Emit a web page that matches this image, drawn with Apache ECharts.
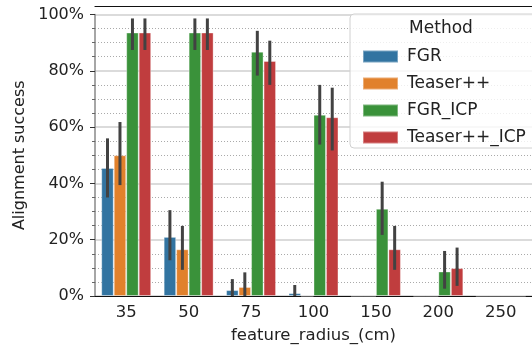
<!DOCTYPE html>
<html>
<head>
<meta charset="utf-8">
<script src="https://cdn.jsdelivr.net/npm/echarts@6/dist/echarts.min.js"></script>
<style>
  html, body { margin: 0; padding: 0; background: #fff; }
  #chart { width: 532px; height: 349px; }
</style>
</head>
<body>
<div id="chart"></div>
<script>
// feature radius categories
var categories = ['35', '50', '75', '100', '150', '200', '250'];
var methods = ['FGR', 'Teaser++', 'FGR_ICP', 'Teaser++_ICP'];
var colors = ['#3274a1', '#e1812c', '#3a923a', '#c03d3e'];

// mean success (%)
var fgr = [45.5, 21, 2.1, 1, 0, 0, 0];
var teaser = [50, 16.6, 3.2, 0, 0, 0, 0];
var fgrIcp = [93.6, 93.6, 86.8, 64.4, 31, 8.7, 0];
var teaserIcp = [93.6, 93.6, 83.5, 63.5, 16.6, 9.9, 0];

// confidence intervals (low / high)
var fgrLo = [35, 12.7, 0, 0, null, null, null];
var fgrHi = [56, 30.5, 6, 3.9, null, null, null];
var teaserLo = [39.4, 9.3, 0, null, null, null, null];
var teaserHi = [61.8, 24.9, 8.4, null, null, null, null];
var fgrIcpLo = [87.4, 87.4, 78.3, 53.8, 21.7, 2.6, null];
var fgrIcpHi = [98.6, 98.6, 94.2, 75, 40.6, 16, null];
var teaserIcpLo = [87.4, 87.4, 75, 51.7, 9.3, 3.6, null];
var teaserIcpHi = [98.6, 98.6, 90.7, 74, 24.9, 17.2, null];

var yTicks = [0, 20, 40, 60, 80, 100];

var means = [fgr, teaser, fgrIcp, teaserIcp];
var los = [fgrLo, teaserLo, fgrIcpLo, teaserIcpLo];
var his = [fgrHi, teaserHi, fgrIcpHi, teaserIcpHi];

var errData = [];
for (var m = 0; m < 4; m++) {
  for (var c = 0; c < categories.length; c++) {
    if (los[m][c] != null) errData.push([c, m, los[m][c], his[m][c]]);
  }
}

var font = 'DejaVu Sans';
var myChart = echarts.init(document.getElementById('chart'));

var series = [];
for (var i = 0; i < 4; i++) {
  series.push({
    name: methods[i],
    type: 'bar',
    data: means[i],
    barGap: '0%',
    barCategoryGap: '20%',
    itemStyle: { color: colors[i], borderColor: 'rgba(255,255,255,0.35)', borderWidth: 1 },
    z: 3
  });
}
series.push({
  type: 'custom',
  data: errData,
  z: 5,
  silent: true,
  renderItem: function (params, api) {
    var cat = api.value(0), m = api.value(1);
    var bw = api.size([1, 0])[0] * 0.8 / 4;
    var lo = api.coord([cat, api.value(2)]);
    var hi = api.coord([cat, api.value(3)]);
    var x = lo[0] + (m - 1.5) * bw;
    return {
      type: 'line',
      shape: { x1: x, y1: lo[1], x2: x, y2: hi[1] },
      style: { stroke: '#424242', lineWidth: 3 }
    };
  }
});

option = {
  animation: false,
  textStyle: { fontFamily: font },
  grid: { left: 95, right: -12, top: 14.5, bottom: 52, containLabel: false },
  legend: {
    data: methods,
    orient: 'vertical',
    left: 357,
    top: 43,
    itemWidth: 35,
    itemHeight: 12,
    itemGap: 10,
    icon: 'rect',
    z: 100,
    textStyle: { fontFamily: font, fontSize: 17, lineHeight: 16, color: '#222', padding: [0, 0, 0, 4] }
  },
  graphic: [
    {
      type: 'rect', z: 50,
      shape: { x: 350, y: 14, width: 200, height: 134, r: 4 },
      style: { fill: 'rgba(255,255,255,0.8)', stroke: '#d0d0d0', lineWidth: 1 }
    },
    {
      type: 'text', z: 51,
      style: { x: 441, y: 29, text: 'Method', textAlign: 'center', textVerticalAlign: 'middle',
               font: '17px "DejaVu Sans"', fill: '#222' }
    }
  ],
  xAxis: [
    {
      type: 'category',
      data: categories,
      name: 'feature_radius_(cm)',
      nameLocation: 'middle',
      nameGap: 31,
      nameTextStyle: { fontFamily: font, fontSize: 16.5, color: '#222' },
      axisLine: { lineStyle: { color: '#111', width: 1.2 } },
      axisTick: { alignWithLabel: true, length: 5, lineStyle: { color: '#111' } },
      axisLabel: { fontFamily: font, fontSize: 16.5, color: '#222', margin: 8 },
      splitLine: { show: false }
    },
    {
      type: 'category',
      data: categories,
      position: 'top',
      offset: 8,
      axisLine: { lineStyle: { color: '#111', width: 1.2 } },
      axisTick: { show: false },
      axisLabel: { show: false }
    }
  ],
  yAxis: {
    type: 'value',
    min: 0,
    max: 100,
    interval: 20,
    name: 'Alignment success',
    nameLocation: 'middle',
    nameGap: 64,
    nameTextStyle: { fontFamily: font, fontSize: 16, color: '#222' },
    axisLine: { show: true, lineStyle: { color: '#888', width: 1.5 } },
    axisTick: { show: true, length: 5, lineStyle: { color: '#333' } },
    minorTick: { show: true, splitNumber: 4, length: 3, lineStyle: { color: '#666' } },
    axisLabel: {
      fontFamily: font, fontSize: 16, color: '#222', margin: 11,
      formatter: function (v) { return yTicks.indexOf(v) >= 0 ? v + '%' : ''; }
    },
    splitLine: { show: true, lineStyle: { color: '#cfcfcf', width: 1.5 } },
    minorSplitLine: { show: true, lineStyle: { color: '#aaa', width: 1, type: [1, 2] } }
  },
  series: series
};
myChart.setOption(option);
</script>
</body>
</html>
